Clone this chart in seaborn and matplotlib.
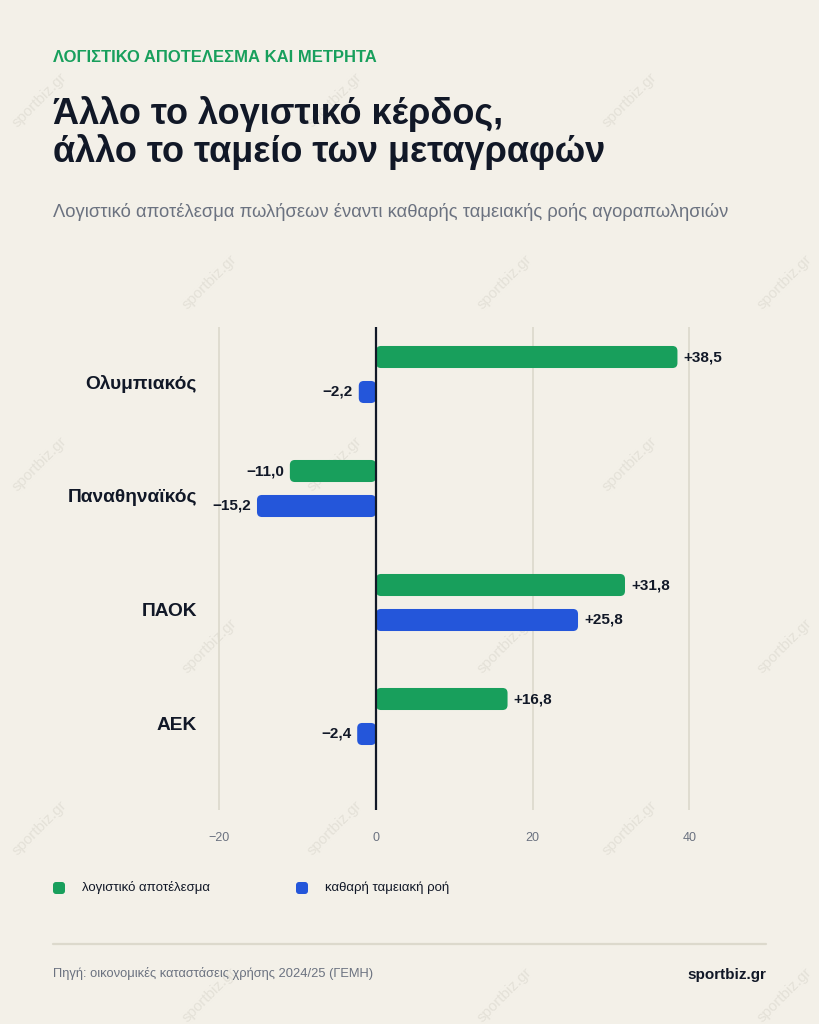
import numpy as np
import pandas as pd
import seaborn as sns
import matplotlib
matplotlib.use("Agg")
import matplotlib.pyplot as plt
from matplotlib.patches import FancyBboxPatch
from matplotlib.transforms import ScaledTranslation

# ---------------- data ----------------
teams = ["Ολυμπιακός", "Παναθηναϊκός", "ΠΑΟΚ", "ΑΕΚ"]
series_names = ["λογιστικό αποτέλεσμα", "καθαρή ταμειακή ροή"]
accounting = [38.5, -11.0, 31.8, 16.8]
cashflow = [-2.2, -15.2, 25.8, -2.4]
x_ticks = [-20, 0, 20, 40]

kicker = "ΛΟΓΙΣΤΙΚΟ ΑΠΟΤΕΛΕΣΜΑ ΚΑΙ ΜΕΤΡΗΤΑ"
title = "Άλλο το λογιστικό κέρδος,\nάλλο το ταμείο των μεταγραφών"
subtitle = "Λογιστικό αποτέλεσμα πωλήσεων έναντι καθαρής ταμειακής ροής αγοραπωλησιών"
source = "Πηγή: οικονομικές καταστάσεις χρήσης 2024/25 (ΓΕΜΗ)"
brand = "sportbiz.gr"

# ---------------- style ----------------
BG = "#f3f0e8"
GREEN = "#189f5c"
BLUE = "#2456da"
DARK = "#111827"
GRAY = "#6b7280"
GRID = "#dcd9cc"

sns.set_theme(style="white")
plt.rcParams["font.family"] = ["Liberation Sans", "DejaVu Sans"]

W, H = 819, 1024
fig = plt.figure(figsize=(W / 100, H / 100), dpi=100, facecolor=BG)

# watermarks
wm_rows = [100, 282, 464, 646, 828, 995]
for i, yy in enumerate(wm_rows):
    xs = [40, 335, 630] if i % 2 == 0 else [210, 505, 785]
    for xx in xs:
        fig.text(xx / W, 1 - yy / H, brand, rotation=45, ha="center", va="center",
                 fontsize=11, color="#e4e1d8", zorder=-5)

# axes placement (pixels)
L, R, T, B = 210, 770, 327, 810
ax = fig.add_axes([L / W, 1 - B / H, (R - L) / W, (B - T) / H])
ax.patch.set_alpha(0)

df = pd.DataFrame({
    "team": teams * 2,
    "metric": [series_names[0]] * len(teams) + [series_names[1]] * len(teams),
    "value": accounting + cashflow,
})

sns.barplot(data=df, y="team", x="value", hue="metric", orient="h",
            palette=[GREEN, BLUE], saturation=1, width=0.614, gap=0.37,
            legend=False, errorbar=None, ax=ax, zorder=3)

# axis scaling
px_per_unit = 7.83
x0_px = 376
xmin = (L - x0_px) / px_per_unit
xmax = (R - x0_px) / px_per_unit
ax.set_xlim(xmin, xmax)
ax.set_ylim((B - 374.5) / 114, -(374.5 - T) / 114)

# rounded bars
asp = (1 / 114) / (1 / px_per_unit)
r = 5 / px_per_unit
bars = list(ax.patches)
for p in bars:
    x, y = p.get_x(), p.get_y()
    w, h = p.get_width(), p.get_height()
    if w < 0:
        x, w = x + w, -w
    fc = p.get_facecolor()
    p.set_visible(False)
    rr = min(r, w / 2 * 0.99)
    fb = FancyBboxPatch((x, y), w, h, boxstyle=f"round,pad=0,rounding_size={rr}",
                        mutation_aspect=asp, facecolor=fc, edgecolor="none", zorder=3)
    ax.add_patch(fb)

# value labels
def fmt(v):
    s = f"{abs(v):.1f}".replace(".", ",")
    return ("+" if v >= 0 else "\u2212") + s

off = 6 / px_per_unit
for cont, vals in zip(ax.containers, [accounting, cashflow]):
    for p, v in zip(cont.patches, vals):
        yc = p.get_y() + p.get_height() / 2
        if v >= 0:
            ax.text(v + off, yc, fmt(v), ha="left", va="center", fontsize=11,
                    fontweight="bold", color=DARK, zorder=4)
        else:
            ax.text(v - off, yc, fmt(v), ha="right", va="center", fontsize=11,
                    fontweight="bold", color=DARK, zorder=4)

# grid & zero line
for t in x_ticks:
    if t == 0:
        ax.axvline(0, color=DARK, lw=1.6, zorder=5)
    else:
        ax.axvline(t, color=GRID, lw=1.2, zorder=1)

ax.set_xticks(x_ticks)
ax.set_xticklabels([("\u2212" + str(abs(t))) if t < 0 else str(t) for t in x_ticks])
ax.tick_params(axis="x", length=0, pad=15.7, labelsize=9, labelcolor=GRAY)
ax.tick_params(axis="y", length=0, pad=9.5, labelsize=13.75, labelcolor=DARK)
for lab in ax.get_yticklabels():
    lab.set_fontweight("bold")
    lab.set_transform(lab.get_transform() + ScaledTranslation(0, -0.075, fig.dpi_scale_trans))
ax.set_xlabel("")
ax.set_ylabel("")
for s in ax.spines.values():
    s.set_visible(False)

# header
fig.text(53 / W, 1 - 58 / H, kicker, ha="left", va="center", fontsize=12,
         fontweight="bold", color=GREEN)
fig.text(53 / W, 1 - 162 / H, title, ha="left", va="baseline", fontsize=26,
         fontweight="bold", color=DARK, linespacing=1.07)
fig.text(53 / W, 1 - 212 / H, subtitle, ha="left", va="center", fontsize=13.2,
         color=GRAY)

# legend
leg_items = [(53, 82, GREEN, series_names[0]), (296, 325, BLUE, series_names[1])]
for sx, tx, col, lab in leg_items:
    fig.patches.append(FancyBboxPatch((sx / 100, (H - 894) / 100), 0.12, 0.12,
                                      boxstyle="round,pad=0,rounding_size=0.03",
                                      transform=fig.dpi_scale_trans, facecolor=col,
                                      edgecolor="none", figure=fig))
    fig.text(tx / W, 1 - 888 / H, lab, ha="left", va="center", fontsize=9.5, color=DARK)

# divider line
fig.add_artist(plt.Line2D([53 / W, 766 / W], [1 - 944 / H, 1 - 944 / H],
                          transform=fig.transFigure, color=GRID, lw=1.6))

# footer
fig.text(53 / W, 1 - 973 / H, source, ha="left", va="center", fontsize=9.3, color=GRAY)
fig.text(766 / W, 1 - 975 / H, brand, ha="right", va="center", fontsize=11,
         fontweight="bold", color=DARK)

fig.savefig("out.png", dpi=100, facecolor=BG)
